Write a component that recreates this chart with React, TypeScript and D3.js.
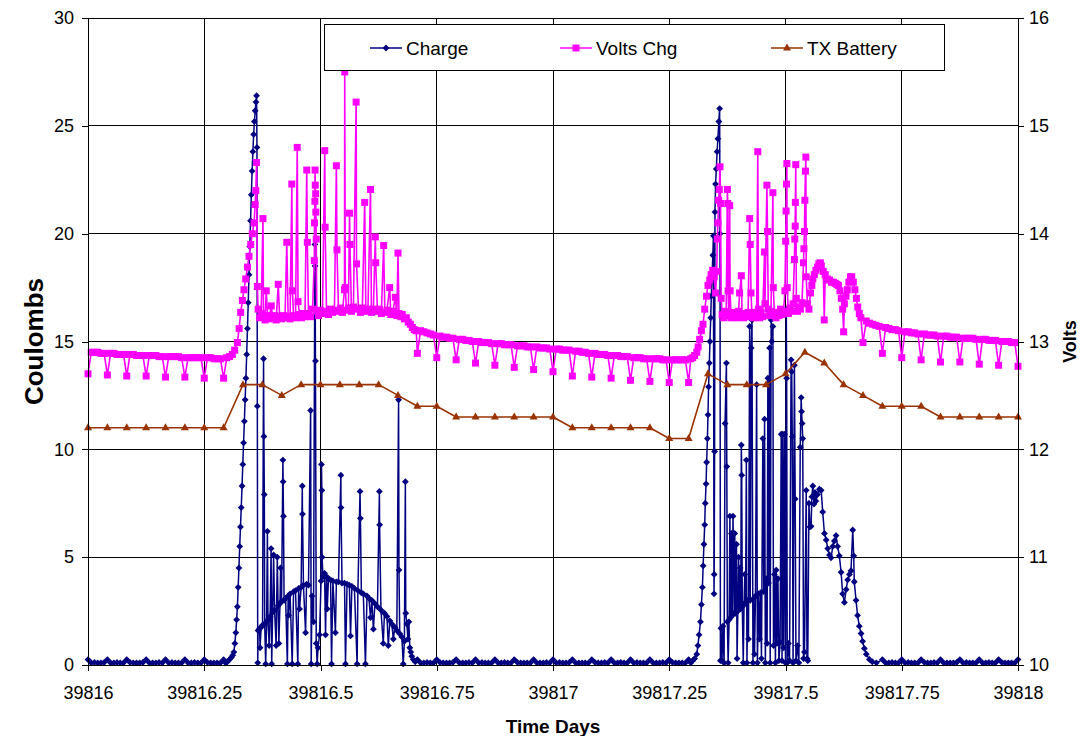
import React, { useEffect, useRef } from 'react';
import * as d3 from 'd3';

type Pt = [number, number];

// x axis is the Excel day serial; samples are stored as hours after day 39816 00:00
const DAY0 = 39816;
const NIGHT_STEP = 1 / 6; // overnight logger interval (10 min)

const timeTicks = [39816, 39816.25, 39816.5, 39816.75, 39817, 39817.25, 39817.5, 39817.75, 39818];
const coulombTicks = [0, 5, 10, 15, 20, 25, 30];
const voltTicks = [10, 11, 12, 13, 14, 15, 16];

// ---------- Charge (Coulombs, left axis)
// night 1, from hour 0
const chargeNight1 = [
  0.25, 0.1, 0.12, 0.1, 0.1, 0.12,
  0.25, 0.1, 0.1, 0.12, 0.1, 0.1,
  0.25, 0.12, 0.1, 0.1, 0.1, 0.12,
  0.25, 0.1, 0.1, 0.1, 0.12, 0.1,
  0.25, 0.1, 0.12, 0.1, 0.1, 0.1,
  0.25, 0.1, 0.1, 0.12, 0.1, 0.1,
  0.25, 0.12, 0.1, 0.1, 0.1, 0.1,
  0.25,
];
const chargeDay1: Pt[] = [
  [7.10, 0.1], [7.20, 0.15], [7.30, 0.25], [7.40, 0.35], [7.47, 0.45], [7.53, 0.6], [7.58, 1.0], [7.63, 1.5],
  [7.67, 2.1], [7.71, 2.7], [7.75, 3.6], [7.79, 4.5], [7.83, 5.5], [7.87, 6.4], [7.91, 7.3], [7.95, 8.3],
  [7.99, 9.3], [8.03, 10.3], [8.07, 11.3], [8.11, 12.3], [8.15, 13.3], [8.19, 14.4], [8.23, 15.6], [8.27, 16.8],
  [8.31, 18.1], [8.35, 19.4], [8.39, 20.6], [8.43, 21.8], [8.47, 22.9], [8.51, 23.8], [8.55, 24.6], [8.59, 25.2],
  [8.63, 25.7], [8.67, 26.1], [8.70, 26.4], [8.72, 24.0], [8.74, 12.0], [8.76, 0.1], [8.78, 1.6],
  [8.86, 1.7], [8.88, 0.8], [8.94, 1.75], [9.01, 1.85], [9.06, 14.2], [9.08, 10.6], [9.10, 7.9], [9.12, 1.9],
  [9.17, 0.05], [9.22, 2.0], [9.26, 6.2], [9.29, 2.1], [9.35, 0.9], [9.40, 2.25], [9.45, 5.4], [9.48, 0.05],
  [9.53, 2.45], [9.58, 5.1], [9.63, 2.55], [9.71, 0.9], [9.77, 5.0], [9.81, 2.75], [9.85, 1.0], [9.91, 2.85],
  [9.94, 4.5], [9.99, 2.95], [10.06, 9.5], [10.07, 8.5], [10.09, 6.9], [10.12, 3.0], [10.20, 3.1], [10.29, 0.05],
  [10.33, 3.2], [10.35, 2.3], [10.43, 3.3], [10.54, 0.05], [10.61, 3.4], [10.71, 3.45], [10.83, 0.05], [10.87, 3.55],
  [10.92, 2.6], [11.00, 3.6], [11.06, 8.3], [11.07, 7.0], [11.12, 3.7], [11.23, 1.5], [11.28, 3.75], [11.38, 3.7],
  [11.49, 11.8], [11.52, 0.05], [11.56, 3.2], [11.64, 2.0], [11.71, 19.5], [11.72, 18.5], [11.74, 14.1], [11.78, 1.0],
  [11.83, 0.05], [11.87, 0.8], [11.95, 1.4], [12.03, 3.9], [12.05, 9.3], [12.07, 8.1], [12.08, 5.0], [12.13, 4.1],
  [12.21, 4.25], [12.26, 1.4], [12.31, 4.1], [12.35, 2.6], [12.41, 4.0], [12.52, 3.95], [12.57, 0.05], [12.64, 3.9],
  [12.77, 1.5], [12.82, 3.85], [12.93, 3.85], [13.05, 8.8], [13.06, 7.3], [13.11, 3.8], [13.24, 3.8], [13.29, 0.05],
  [13.37, 3.75], [13.49, 3.7], [13.55, 1.35], [13.62, 3.65], [13.75, 3.55], [13.89, 0.05], [13.93, 3.45], [14.04, 8.05],
  [14.06, 6.8], [14.11, 3.35], [14.21, 3.3], [14.32, 0.05], [14.40, 3.2], [14.50, 3.1], [14.58, 2.2], [14.65, 3.0],
  [14.73, 1.66], [14.81, 2.85], [14.94, 2.7], [15.04, 8.05], [15.05, 6.5], [15.12, 2.55], [15.24, 1.0], [15.30, 2.4],
  [15.43, 2.25], [15.50, 0.9], [15.58, 2.05], [15.68, 1.9], [15.76, 1.2], [15.84, 1.75], [15.94, 1.6], [16.03, 12.3],
  [16.05, 4.4], [16.09, 1.45], [16.20, 1.3], [16.27, 0.05], [16.33, 1.1], [16.38, 8.5], [16.40, 2.4], [16.46, 1.9],
  [16.51, 1.2], [16.56, 2.0], [16.61, 0.8], [16.66, 0.6], [16.71, 0.4], [16.79, 0.25], [16.89, 0.15],
];
// night 2, from hour 17
const chargeNight2 = [
  0.25, 0.1, 0.1, 0.12, 0.1, 0.1,
  0.25, 0.12, 0.1, 0.1, 0.1, 0.12,
  0.25, 0.1, 0.1, 0.1, 0.12, 0.1,
  0.25, 0.1, 0.12, 0.1, 0.1, 0.1,
  0.25, 0.1, 0.1, 0.12, 0.1, 0.1,
  0.25, 0.12, 0.1, 0.1, 0.1, 0.1,
  0.25, 0.1, 0.1, 0.1, 0.12, 0.1,
  0.25, 0.1, 0.12, 0.1, 0.1, 0.12,
  0.25, 0.1, 0.1, 0.1, 0.1, 0.1,
  0.25, 0.12, 0.1, 0.1, 0.12, 0.1,
  0.25, 0.1, 0.1, 0.12, 0.1, 0.1,
  0.25, 0.1, 0.12, 0.1, 0.1, 0.1,
  0.25, 0.1, 0.1, 0.1, 0.12, 0.1,
  0.25, 0.12, 0.1, 0.1, 0.1, 0.1,
  0.25,
];
const chargeDay2: Pt[] = [
  [31.11, 0.1], [31.21, 0.2], [31.31, 0.3], [31.42, 0.5], [31.48, 0.9], [31.54, 1.4], [31.61, 2.0], [31.66, 2.8],
  [31.71, 3.6], [31.75, 4.6], [31.79, 5.6], [31.83, 6.5], [31.86, 7.5], [31.90, 8.4], [31.93, 9.4], [31.97, 10.5],
  [32.00, 11.6], [32.03, 12.9], [32.07, 14.0], [32.10, 15.0], [32.14, 16.1], [32.17, 17.1], [32.21, 18.1], [32.25, 19.0],
  [32.28, 19.9], [32.31, 3.3], [32.32, 4.2], [32.34, 9.9], [32.36, 21.0], [32.39, 22.3], [32.43, 23.0], [32.47, 23.8],
  [32.51, 24.4], [32.56, 25.2], [32.60, 25.8], [32.62, 20.0], [32.64, 0.2], [32.67, 1.7], [32.72, 0.2], [32.77, 1.8],
  [32.83, 0.1], [32.88, 11.2], [32.95, 14.0], [32.97, 9.2], [33.00, 2.0], [33.04, 0.1], [33.09, 2.1], [33.13, 6.9],
  [33.17, 2.2], [33.21, 6.1], [33.25, 2.3], [33.29, 6.9], [33.32, 5.2], [33.35, 2.4], [33.38, 6.1], [33.42, 2.4],
  [33.47, 5.6], [33.50, 0.3], [33.54, 2.5], [33.58, 5.0], [33.62, 2.6], [33.66, 4.5], [33.69, 2.6], [33.72, 10.2],
  [33.74, 8.8], [33.77, 2.7], [33.82, 0.1], [33.86, 2.8], [33.90, 4.2], [33.94, 2.9], [33.98, 9.5], [34.01, 0.1],
  [34.05, 3.0], [34.09, 1.2], [34.15, 15.7], [34.18, 3.0], [34.23, 14.7], [34.27, 16.0], [34.32, 0.1], [34.36, 3.1],
  [34.40, 0.5], [34.45, 3.2], [34.51, 13.0], [34.55, 0.1], [34.61, 3.3], [34.66, 1.2], [34.71, 3.35], [34.76, 0.3],
  [34.83, 10.5], [34.88, 3.4], [34.92, 11.4], [34.96, 0.1], [35.01, 4.0], [35.05, 1.0], [35.09, 13.3], [35.12, 3.8],
  [35.18, 14.7], [35.21, 0.1], [35.26, 16.0], [35.29, 15.0], [35.35, 15.7], [35.38, 0.9], [35.43, 4.2], [35.48, 0.1],
  [35.52, 4.4], [35.56, 1.0], [35.61, 4.0], [35.66, 0.2], [35.72, 1.05], [35.78, 10.7], [35.82, 0.2], [35.86, 10.7],
  [35.90, 0.8], [35.95, 10.7], [36.00, 0.1], [36.04, 16.5], [36.06, 13.3], [36.09, 0.1], [36.15, 1.0], [36.21, 0.2],
  [36.29, 14.15], [36.32, 13.6], [36.35, 10.6], [36.39, 0.1], [36.46, 13.9], [36.50, 7.7], [36.54, 0.2], [36.62, 0.9],
  [36.69, 0.1], [36.76, 10.1], [36.81, 12.4], [36.83, 11.75], [36.86, 11.2], [36.89, 10.5], [36.93, 0.3], [36.98, 0.6],
  [37.07, 8.1], [37.11, 0.3], [37.15, 0.2], [37.21, 7.5], [37.26, 6.4], [37.32, 6.43], [37.36, 7.8], [37.41, 8.3],
  [37.47, 7.46], [37.52, 8.0], [37.57, 7.6], [37.65, 7.9], [37.75, 8.15], [37.84, 8.1], [37.92, 7.1], [38.01, 6.1],
  [38.10, 5.8], [38.18, 5.4], [38.27, 5.1], [38.35, 4.97], [38.44, 5.5], [38.52, 5.75], [38.61, 6.0], [38.69, 5.5],
  [38.78, 5.06], [38.87, 4.3], [38.95, 3.3], [39.04, 2.9], [39.13, 3.5], [39.21, 3.95], [39.30, 4.2], [39.38, 4.37],
  [39.47, 6.26], [39.52, 5.06], [39.55, 3.86], [39.64, 3.0], [39.72, 2.3], [39.81, 1.8], [39.90, 1.46], [39.98, 1.1],
  [40.07, 0.77], [40.17, 0.5], [40.33, 0.26], [40.48, 0.15], [40.69, 0.1],
];
// night 3, from hour 41
const chargeNight3 = [
  0.25, 0.1, 0.1, 0.12, 0.1, 0.1,
  0.25, 0.1, 0.12, 0.1, 0.1, 0.1,
  0.25, 0.12, 0.1, 0.1, 0.12, 0.1,
  0.25, 0.1, 0.1, 0.1, 0.1, 0.12,
  0.25, 0.1, 0.12, 0.1, 0.1, 0.1,
  0.25, 0.1, 0.1, 0.12, 0.1, 0.1,
  0.25, 0.12, 0.1, 0.1, 0.1, 0.1,
  0.25,
];

// ---------- Volts Chg (right axis)
// night 1, from hour 0 (hourly reading dips ~0.2 V)
const voltsNight1 = [
  12.70, 12.90, 12.90, 12.90, 12.89, 12.89,
  12.69, 12.89, 12.89, 12.88, 12.88, 12.88,
  12.68, 12.88, 12.88, 12.87, 12.87, 12.87,
  12.68, 12.87, 12.87, 12.87, 12.86, 12.86,
  12.67, 12.86, 12.86, 12.86, 12.86, 12.85,
  12.67, 12.85, 12.85, 12.85, 12.85, 12.85,
  12.66, 12.85, 12.85, 12.84, 12.84, 12.84,
  12.66,
];
const voltsDay1: Pt[] = [
  [7.16, 12.85], [7.31, 12.86], [7.45, 12.88], [7.57, 12.92], [7.71, 12.99], [7.80, 13.12], [7.88, 13.27], [7.97, 13.38],
  [8.05, 13.48], [8.14, 13.58], [8.23, 13.69], [8.31, 13.79], [8.40, 13.90], [8.48, 14.00], [8.57, 14.10], [8.63, 14.27],
  [8.66, 14.40], [8.70, 14.66], [8.74, 13.51], [8.78, 13.30], [8.86, 13.22], [8.94, 13.26], [9.03, 14.14], [9.06, 13.24],
  [9.14, 13.20], [9.20, 13.47], [9.27, 13.24], [9.35, 13.21], [9.46, 13.33], [9.53, 13.22], [9.63, 13.24], [9.71, 13.20],
  [9.82, 13.53], [9.89, 13.23], [9.99, 13.21], [10.09, 13.24], [10.17, 13.22], [10.26, 13.92], [10.33, 13.23], [10.43, 13.21],
  [10.52, 14.46], [10.55, 13.47], [10.61, 13.24], [10.71, 13.22], [10.80, 14.80], [10.84, 13.37], [10.92, 13.25], [11.02, 13.22],
  [11.12, 13.26], [11.20, 13.23], [11.29, 14.59], [11.32, 13.92], [11.38, 13.26], [11.49, 13.23], [11.59, 13.30], [11.68, 13.75],
  [11.69, 14.10], [11.71, 14.30], [11.72, 14.59], [11.73, 14.45], [11.75, 14.37], [11.76, 14.20], [11.78, 13.95], [11.81, 13.28],
  [11.90, 13.24], [12.00, 13.29], [12.10, 13.26], [12.22, 14.77], [12.24, 14.06], [12.31, 13.28], [12.41, 13.25], [12.52, 13.30],
  [12.62, 13.27], [12.72, 13.29], [12.82, 14.63], [12.85, 13.85], [12.93, 13.28], [13.03, 13.31], [13.13, 13.27], [13.24, 13.48],
  [13.25, 15.50], [13.28, 13.50], [13.34, 13.29], [13.44, 13.31], [13.50, 14.19], [13.52, 13.90], [13.60, 13.28], [13.70, 13.32],
  [13.84, 15.22], [13.86, 13.72], [13.96, 13.30], [14.06, 13.27], [14.16, 13.31], [14.28, 14.29], [14.34, 13.28], [14.45, 13.30],
  [14.58, 14.41], [14.63, 13.27], [14.73, 13.30], [14.83, 13.97], [14.85, 13.73], [14.94, 13.28], [15.04, 13.30], [15.14, 13.26],
  [15.26, 13.89], [15.32, 13.27], [15.43, 13.29], [15.57, 13.50], [15.63, 13.25], [15.73, 13.28], [15.86, 13.41], [15.94, 13.24],
  [16.00, 13.82], [16.05, 13.26], [16.15, 13.23], [16.22, 13.25], [16.33, 13.21], [16.43, 13.22], [16.53, 13.18], [16.64, 13.16],
  [16.74, 13.13], [16.84, 13.11], [16.94, 13.10],
];
// night 2, from hour 17
const voltsNight2 = [
  12.89, 13.10, 13.09, 13.08, 13.07, 13.06,
  12.85, 13.05, 13.04, 13.04, 13.03, 13.03,
  12.83, 13.02, 13.02, 13.01, 13.01, 13.00,
  12.80, 13.00, 12.99, 12.99, 12.99, 12.98,
  12.78, 12.98, 12.98, 12.97, 12.97, 12.97,
  12.76, 12.96, 12.96, 12.96, 12.95, 12.95,
  12.74, 12.95, 12.94, 12.94, 12.94, 12.93,
  12.72, 12.93, 12.93, 12.92, 12.92, 12.92,
  12.68, 12.91, 12.91, 12.90, 12.90, 12.89,
  12.67, 12.89, 12.88, 12.88, 12.88, 12.87,
  12.66, 12.87, 12.87, 12.86, 12.86, 12.86,
  12.64, 12.85, 12.85, 12.85, 12.84, 12.84,
  12.63, 12.84, 12.84, 12.84, 12.83, 12.83,
  12.62, 12.83, 12.83, 12.83, 12.83, 12.83,
  12.62,
];
const voltsDay2: Pt[] = [
  [31.11, 12.84], [31.21, 12.85], [31.31, 12.87], [31.42, 12.90], [31.49, 12.95], [31.57, 13.02], [31.66, 13.10], [31.74, 13.16],
  [31.83, 13.30], [31.92, 13.42], [32.00, 13.52], [32.09, 13.57], [32.16, 13.62], [32.24, 13.66], [32.32, 13.60], [32.39, 13.45],
  [32.45, 13.65], [32.48, 13.95], [32.51, 14.10], [32.55, 14.31], [32.58, 14.41], [32.62, 14.62], [32.65, 14.28], [32.68, 13.40],
  [32.73, 13.25], [32.81, 13.22], [32.88, 13.28], [32.94, 13.24], [33.00, 14.41], [33.02, 14.28], [33.04, 13.47], [33.08, 13.24],
  [33.12, 14.26], [33.14, 13.47], [33.19, 13.22], [33.27, 13.27], [33.35, 13.23], [33.42, 13.25], [33.50, 13.22], [33.58, 13.28],
  [33.63, 13.45], [33.72, 13.61], [33.76, 13.24], [33.84, 13.22], [33.91, 13.26], [33.99, 13.23], [34.07, 13.27], [34.15, 14.14],
  [34.18, 13.90], [34.22, 13.45], [34.27, 13.24], [34.35, 13.22], [34.43, 13.27], [34.51, 13.24], [34.57, 14.76], [34.60, 13.30],
  [34.66, 13.22], [34.74, 13.27], [34.82, 13.23], [34.92, 13.83], [34.94, 13.35], [35.04, 14.45], [35.07, 14.02], [35.11, 13.30],
  [35.18, 13.24], [35.25, 13.28], [35.35, 14.38], [35.37, 13.50], [35.43, 13.25], [35.51, 13.22], [35.59, 13.27], [35.66, 13.24],
  [35.74, 13.30], [35.82, 13.25], [35.90, 13.28], [35.97, 13.47], [36.01, 13.93], [36.03, 14.21], [36.05, 14.46], [36.07, 14.65],
  [36.09, 13.50], [36.15, 13.26], [36.23, 13.31], [36.31, 13.28], [36.39, 13.35], [36.46, 13.76], [36.48, 13.95], [36.50, 14.07],
  [36.51, 14.29], [36.53, 14.64], [36.56, 13.40], [36.62, 13.28], [36.69, 13.32], [36.77, 13.30], [36.85, 13.36], [36.93, 13.73],
  [36.95, 13.86], [36.98, 14.02], [37.00, 14.31], [37.03, 14.58], [37.05, 14.71], [37.07, 13.60], [37.13, 13.35], [37.21, 13.30],
  [37.29, 13.45], [37.36, 13.52], [37.41, 13.58], [37.49, 13.62], [37.57, 13.66], [37.65, 13.69], [37.72, 13.72], [37.80, 13.73],
  [37.85, 13.70], [37.95, 13.65], [38.00, 13.20], [38.05, 13.62], [38.16, 13.58], [38.27, 13.57], [38.37, 13.55], [38.47, 13.55],
  [38.57, 13.54], [38.65, 13.53], [38.73, 13.52], [38.81, 13.47], [38.88, 13.40], [38.95, 13.30], [39.00, 13.09], [39.04, 13.35],
  [39.12, 13.42], [39.19, 13.48], [39.27, 13.55], [39.35, 13.60], [39.42, 13.60], [39.50, 13.55], [39.58, 13.48], [39.66, 13.40],
  [39.73, 13.32], [39.81, 13.26], [39.89, 13.22],
];
// night 3, from hour 40
const voltsNight3 = [
  12.99, 13.19, 13.17, 13.16, 13.15, 13.14,
  12.89, 13.13, 13.12, 13.11, 13.11, 13.10,
  12.85, 13.09, 13.09, 13.08, 13.08, 13.07,
  12.83, 13.07, 13.06, 13.06, 13.06, 13.05,
  12.81, 13.05, 13.05, 13.04, 13.04, 13.04,
  12.81, 13.03, 13.03, 13.03, 13.03, 13.02,
  12.79, 13.02, 13.02, 13.01, 13.01, 13.01,
  12.78, 13.00, 13.00, 13.00, 12.99, 12.99,
  12.77,
];

// ---------- TX Battery (volts, right axis), hourly from hour 0
const txBattery = [
  12.2, 12.2, 12.2, 12.2, 12.2, 12.2, 12.2, 12.2,
  12.6, 12.6, 12.5, 12.6, 12.6, 12.6, 12.6, 12.6, 12.5, 12.4, 12.4,
  12.3, 12.3, 12.3, 12.3, 12.3, 12.3, 12.2, 12.2, 12.2, 12.2, 12.2, 12.1, 12.1,
  12.7, 12.6, 12.6, 12.6, 12.7, 12.9, 12.8, 12.6, 12.5, 12.4, 12.4, 12.4,
  12.3, 12.3, 12.3, 12.3, 12.3,
];

const FONT = '"Liberation Sans", Arial, Helvetica, sans-serif';
const NAVY = '#000080';
const PINK = '#FF00FF';
const BROWN = '#993300';

const night = (start: number, vals: number[]): Pt[] => vals.map((v, i) => [start + i * NIGHT_STEP, v]);

const chargeData: Pt[] = [
  ...night(0, chargeNight1), ...chargeDay1, ...night(17, chargeNight2), ...chargeDay2, ...night(41, chargeNight3),
];
const voltsData: Pt[] = [
  ...night(0, voltsNight1), ...voltsDay1, ...night(17, voltsNight2), ...voltsDay2, ...night(40, voltsNight3),
];
const txData: Pt[] = txBattery.map((v, i) => [i, v]);

const DIAMOND = 'M0,-3.4L3.4,0L0,3.4L-3.4,0Z';
const SQUARE = 'M-3.5,-3.5H3.5V3.5H-3.5Z';
const TRIANGLE = 'M0,-4.5L4,2.5L-4,2.5Z';

const ChargeChart = () => {
  const svgRef = useRef<SVGSVGElement>(null);

  useEffect(() => {
    const svg = d3.select(svgRef.current);
    const width = 1080;
    const height = 736;
    const margin = { top: 18, right: 62, bottom: 71, left: 88 };
    const x0 = margin.left, x1 = width - margin.right;
    const y0 = height - margin.bottom, y1 = margin.top;

    svg.selectAll('*').remove();

    const x = d3.scaleLinear().domain([39816, 39818]).range([x0, x1]);
    const yC = d3.scaleLinear().domain([0, 30]).range([y0, y1]);
    const yV = d3.scaleLinear().domain([10, 16]).range([y0, y1]);
    const hx = (h: number) => x(DAY0 + h / 24);

    svg.append('rect').attr('width', width).attr('height', height).attr('fill', '#fff');

    // grid
    const grid = svg.append('g').attr('stroke', '#000').attr('stroke-width', 1).attr('shape-rendering', 'crispEdges');
    grid.append('g').selectAll('line').data(coulombTicks).join('line')
      .attr('x1', x0).attr('x2', x1).attr('y1', d => yC(d)).attr('y2', d => yC(d));
    grid.append('g').selectAll('line').data(timeTicks).join('line')
      .attr('y1', y1).attr('y2', y0).attr('x1', d => x(d)).attr('x2', d => x(d));

    const drawSeries = (data: Pt[], yScale: any, color: string, marker: string, lw: number) => {
      const line = d3.line<Pt>().x(d => hx(d[0])).y(d => yScale(d[1]));
      const g = svg.append('g');
      g.append('path').datum(data).attr('d', line).attr('fill', 'none')
        .attr('stroke', color).attr('stroke-width', lw).attr('stroke-linejoin', 'round');
      g.append('g').attr('fill', color).selectAll('path').data(data).join('path')
        .attr('d', marker)
        .attr('transform', d => `translate(${hx(d[0])},${yScale(d[1])})`);
    };

    drawSeries(chargeData, yC, NAVY, DIAMOND, 1.5);
    drawSeries(voltsData, yV, PINK, SQUARE, 1.6);
    drawSeries(txData, yV, BROWN, TRIANGLE, 1.6);

    // frame
    svg.append('rect').attr('x', x0).attr('y', y1).attr('width', x1 - x0).attr('height', y0 - y1)
      .attr('fill', 'none').attr('stroke', '#000').attr('stroke-width', 1).attr('shape-rendering', 'crispEdges');

    // axes
    const styleAxis = (g: any) => {
      g.attr('font-size', 18).attr('font-family', FONT);
      g.select('.domain').remove();
      g.selectAll('line').attr('stroke', '#000').attr('shape-rendering', 'crispEdges');
      g.selectAll('text').attr('fill', '#000');
    };
    const plain = (d: any) => String(d);
    svg.append('g').attr('transform', `translate(${x0},0)`)
      .call(d3.axisLeft(yC).tickValues(coulombTicks).tickFormat(plain).tickSize(6).tickPadding(8))
      .call(styleAxis);
    svg.append('g').attr('transform', `translate(${x1},0)`)
      .call(d3.axisRight(yV).tickValues(voltTicks).tickFormat(plain).tickSize(6).tickPadding(5))
      .call(styleAxis);
    svg.append('g').attr('transform', `translate(0,${y0})`)
      .call(d3.axisBottom(x).tickValues(timeTicks).tickFormat(plain).tickSize(6).tickPadding(15))
      .call(styleAxis);

    // axis titles
    svg.append('text').attr('transform', `translate(43,${(y0 + y1) / 2}) rotate(-90)`)
      .attr('text-anchor', 'middle').attr('font-family', FONT).attr('font-weight', 'bold').attr('font-size', 26)
      .text('Coulombs');
    svg.append('text').attr('transform', `translate(1076,${(y0 + y1) / 2}) rotate(-90)`)
      .attr('text-anchor', 'middle').attr('font-family', FONT).attr('font-weight', 'bold').attr('font-size', 18)
      .text('Volts');
    svg.append('text').attr('x', (x0 + x1) / 2).attr('y', 733)
      .attr('text-anchor', 'middle').attr('font-family', FONT).attr('font-weight', 'bold').attr('font-size', 19)
      .text('Time Days');

    // legend
    const legend = svg.append('g');
    legend.append('rect').attr('x', 324).attr('y', 24).attr('width', 620).attr('height', 46)
      .attr('fill', '#fff').attr('stroke', '#000').attr('stroke-width', 1).attr('shape-rendering', 'crispEdges');
    const items = [
      { name: 'Charge', color: NAVY, marker: DIAMOND, lx: 370 },
      { name: 'Volts Chg', color: PINK, marker: SQUARE, lx: 560 },
      { name: 'TX Battery', color: BROWN, marker: TRIANGLE, lx: 771 },
    ];
    const ly = 48;
    items.forEach(it => {
      legend.append('line').attr('x1', it.lx).attr('x2', it.lx + 32).attr('y1', ly).attr('y2', ly)
        .attr('stroke', it.color).attr('stroke-width', 1.5);
      legend.append('path').attr('d', it.marker).attr('fill', it.color)
        .attr('transform', `translate(${it.lx + 16},${ly})`);
      legend.append('text').attr('x', it.lx + 36).attr('y', ly).attr('dy', '0.35em')
        .attr('font-family', FONT).attr('font-size', 19).attr('fill', '#000').text(it.name);
    });
  }, []);

  return <svg ref={svgRef} width={1080} height={736} style={{ position: 'absolute', left: 0, top: 0 }}></svg>;
};

export default function App() {
  return <ChargeChart />;
}
